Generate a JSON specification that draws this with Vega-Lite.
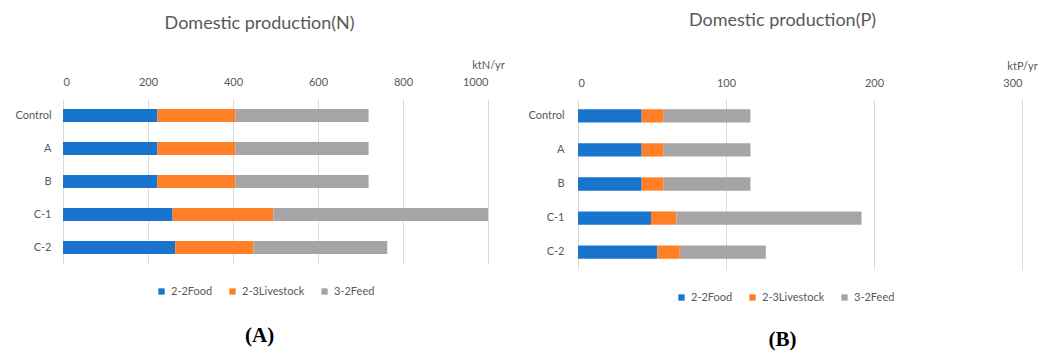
{
  "$schema": "https://vega.github.io/schema/vega-lite/v6.json",
  "padding": {"left": 14, "top": 12, "right": 5, "bottom": 5},
  "background": "white",
  "config": {
    "font": "Lato",
    "view": {"stroke": null},
    "axis": {"labelColor": "#595959", "labelFontSize": 11, "titleColor": "#595959", "titleFontWeight": "normal", "titleFontSize": 11, "domain": false, "ticks": false, "gridColor": "#d9d9d9", "gridWidth": 1},
    "title": {"color": "#595959", "fontWeight": "normal", "fontSize": 18},
    "legend": {"labelColor": "#595959", "symbolType": "square", "symbolStrokeWidth": 0, "direction": "horizontal", "orient": "none", "gridAlign": "none", "labelFontSize": 11, "symbolSize": 40, "columnPadding": 14, "labelOffset": 4}
  },
  "datasets": {
    "N": [
      {"scenario": "Control", "type": "2-2Food", "value": 222},
      {"scenario": "Control", "type": "2-3Livestock", "value": 184},
      {"scenario": "Control", "type": "3-2Feed", "value": 313},
      {"scenario": "A", "type": "2-2Food", "value": 222},
      {"scenario": "A", "type": "2-3Livestock", "value": 184},
      {"scenario": "A", "type": "3-2Feed", "value": 313},
      {"scenario": "B", "type": "2-2Food", "value": 222},
      {"scenario": "B", "type": "2-3Livestock", "value": 184},
      {"scenario": "B", "type": "3-2Feed", "value": 313},
      {"scenario": "C-1", "type": "2-2Food", "value": 258},
      {"scenario": "C-1", "type": "2-3Livestock", "value": 237},
      {"scenario": "C-1", "type": "3-2Feed", "value": 505},
      {"scenario": "C-2", "type": "2-2Food", "value": 264},
      {"scenario": "C-2", "type": "2-3Livestock", "value": 184},
      {"scenario": "C-2", "type": "3-2Feed", "value": 315}
    ],
    "P": [
      {"scenario": "Control", "type": "2-2Food", "value": 43.0},
      {"scenario": "Control", "type": "2-3Livestock", "value": 14.9},
      {"scenario": "Control", "type": "3-2Feed", "value": 58.6},
      {"scenario": "A", "type": "2-2Food", "value": 43.0},
      {"scenario": "A", "type": "2-3Livestock", "value": 14.9},
      {"scenario": "A", "type": "3-2Feed", "value": 58.6},
      {"scenario": "B", "type": "2-2Food", "value": 43.0},
      {"scenario": "B", "type": "2-3Livestock", "value": 14.9},
      {"scenario": "B", "type": "3-2Feed", "value": 58.6},
      {"scenario": "C-1", "type": "2-2Food", "value": 49.3},
      {"scenario": "C-1", "type": "2-3Livestock", "value": 17.2},
      {"scenario": "C-1", "type": "3-2Feed", "value": 125.1},
      {"scenario": "C-2", "type": "2-2Food", "value": 53.6},
      {"scenario": "C-2", "type": "2-3Livestock", "value": 15.2},
      {"scenario": "C-2", "type": "3-2Feed", "value": 58.1}
    ]
  },
  "spacing": 22,
  "resolve": {"scale": {"color": "independent"}, "legend": {"color": "independent"}},
  "hconcat": [
    {
      "title": {"text": "(A)", "orient": "bottom", "anchor": "middle", "font": "Liberation Serif", "fontWeight": "bold", "fontSize": 21, "color": "black", "offset": 28},
      "vconcat": [
        {
          "title": {"text": "Domestic production(N)", "offset": 28, "frame": "bounds", "dy": 2},
          "width": 425,
          "height": 165,
          "data": {"name": "N"},
          "mark": {"type": "bar"},
          "encoding": {
            "y": {"field": "scenario", "type": "nominal", "sort": ["Control", "A", "B", "C-1", "C-2"], "title": null,
                  "scale": {"paddingInner": 0.6, "paddingOuter": 0.3},
                  "axis": {"labelPadding": 12, "grid": false}},
            "x": {"field": "value", "type": "quantitative", "scale": {"domain": [0, 1000]},
                  "axis": {"orient": "top", "values": [0, 200, 400, 600, 800, 1000], "format": "d", "title": "ktN/yr", "titleAnchor": "end", "titleAlign": "center", "titleAngle": 0, "labelPadding": 12, "titlePadding": 6}},
            "color": {"field": "type", "type": "nominal",
                      "scale": {"domain": ["2-2Food", "2-3Livestock", "3-2Feed"], "range": ["#1874CD", "#FF7F27", "#A5A5A5"]},
                      "legend": {"title": null, "legendX": 93, "legendY": 187}}
          }
        }
      ]
    },
    {
      "title": {"text": "(B)", "orient": "bottom", "anchor": "middle", "font": "Liberation Serif", "fontWeight": "bold", "fontSize": 21, "color": "black", "offset": 26},
      "vconcat": [
        {
          "title": {"text": "Domestic production(P)", "offset": 25, "frame": "bounds", "dy": -5},
          "width": 444,
          "height": 170,
          "data": {"name": "P"},
          "mark": {"type": "bar"},
          "encoding": {
            "y": {"field": "scenario", "type": "nominal", "sort": ["Control", "A", "B", "C-1", "C-2"], "title": null,
                  "scale": {"paddingInner": 0.61, "paddingOuter": 0.3},
                  "axis": {"labelPadding": 14, "grid": false}},
            "x": {"field": "value", "type": "quantitative", "scale": {"domain": [0, 300]},
                  "axis": {"orient": "top", "values": [0, 100, 200, 300], "format": "d", "title": "ktP/yr", "titleAnchor": "end", "titleAlign": "center", "titleAngle": 0, "labelPadding": 11, "titlePadding": 6}},
            "color": {"field": "type", "type": "nominal",
                      "scale": {"domain": ["2-2Food", "2-3Livestock", "3-2Feed"], "range": ["#1874CD", "#FF7F27", "#A5A5A5"]},
                      "legend": {"title": null, "legendX": 98, "legendY": 193}}
          }
        }
      ]
    }
  ]
}
